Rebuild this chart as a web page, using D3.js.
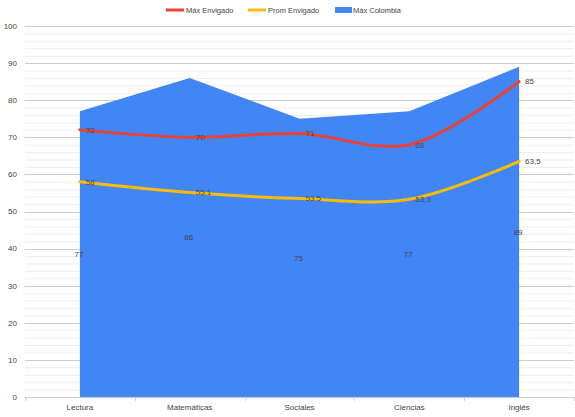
<!DOCTYPE html>
<html><head><meta charset="utf-8">
<script src="https://cdn.jsdelivr.net/npm/d3@7"></script>
<style>body{margin:0;background:#fff}svg{display:block;font-family:Arial,"Liberation Sans",sans-serif}</style>
</head><body><svg id="c" width="575" height="417"></svg>
<script>
const categories = ["Lectura","Matemáticas","Sociales","Ciencias","Inglés"];
const maxEnvigado = [72,70,71,68,85];
const promEnvigado = [58,55.1,53.5,53.3,63.5];
const maxColombia = [77,86,75,77,89];
const yTicks = [0,10,20,30,40,50,60,70,80,90,100];
const seriesNames = ["Máx Envigado","Prom Envigado","Máx Colombia"];
const colors = ["#ea4335","#fbbc04","#4285f4"];
const fmt = v => String(v).replace(".", ",");

const svg = d3.select("#c");
const L = 25, R = 574, T = 26, B = 397;
const x = d3.scaleBand().domain(categories).range([L, R]);
const cx = c => x(c) + x.bandwidth()/2;
const y = d3.scaleLinear().domain([0,100]).range([B, T]);

// minor gridlines
const minor = d3.range(0, 101, 2).filter(v => v % 10 !== 0);
svg.append("g").selectAll("line").data(minor).join("line")
  .attr("x1", L).attr("x2", R).attr("y1", d => y(d)+0.5).attr("y2", d => y(d)+0.5)
  .attr("stroke", "#ededed").attr("stroke-width", 1);
svg.append("g").selectAll("line").data(yTicks.filter(v=>v>0)).join("line")
  .attr("x1", L).attr("x2", R).attr("y1", d => Math.round(y(d))+0.5).attr("y2", d => Math.round(y(d))+0.5)
  .attr("stroke", "#cccccc").attr("stroke-width", 1);

// y labels
svg.append("g").selectAll("text").data(yTicks).join("text")
  .attr("x", 17).attr("y", d => y(d)).attr("dy", "0.35em")
  .attr("text-anchor", "end").attr("font-size", 8).attr("fill", "#444")
  .text(d => d);

// area
const area = d3.area().x((d,i) => cx(categories[i])).y0(y(0)).y1(d => y(d));
svg.append("path").datum(maxColombia).attr("d", area).attr("fill", colors[2]);

// x axis
const xa = svg.append("g").attr("transform", `translate(0,${B})`);
xa.append("line").attr("x1", L).attr("x2", R).attr("y1", 0.5).attr("y2", 0.5).attr("stroke", "#ccc");
const bounds = categories.map(c => x(c)).concat([R]);
xa.selectAll("line.t").data(bounds).join("line").attr("class","t")
  .attr("x1", d => Math.round(d)+0.5).attr("x2", d => Math.round(d)+0.5).attr("y1", 0).attr("y2", 4).attr("stroke", "#ccc");
xa.selectAll("text").data(categories).join("text")
  .attr("x", d => cx(d)).attr("y", 13).attr("text-anchor", "middle")
  .attr("font-size", 8).attr("fill", "#444").text(d => d);

// lines
const line = d3.line().x((d,i) => cx(categories[i])).y(d => y(d)).curve(d3.curveCatmullRom.alpha(0.5));
[[maxEnvigado, colors[0]], [promEnvigado, colors[1]]].forEach(([data, col]) => {
  svg.append("path").datum(data).attr("d", line).attr("fill", "none")
    .attr("stroke", col).attr("stroke-width", 3).attr("stroke-linecap", "round");
});

// area labels
svg.append("g").selectAll("text").data(maxColombia).join("text")
  .attr("x", (d,i) => cx(categories[i]) - 1).attr("y", d => y(d/2)).attr("dy", "0.35em")
  .attr("text-anchor", "middle").attr("font-size", 8).attr("fill", "#444").text(d => fmt(d));

// line labels
[maxEnvigado, promEnvigado].forEach(data => {
  svg.append("g").selectAll("text").data(data).join("text")
    .attr("x", (d,i) => cx(categories[i]) + 6).attr("y", d => y(d)).attr("dy", "0.35em")
    .attr("font-size", 8).attr("fill", (d,i) => i === categories.length-1 ? "#444" : "#4a4a4a").text(d => fmt(d));
});

// legend
const legX = [166, 248, 335];
const lg = svg.append("g");
seriesNames.forEach((n, i) => {
  if (i < 2) {
    lg.append("line").attr("x1", legX[i]).attr("x2", legX[i]+18).attr("y1", 10).attr("y2", 10)
      .attr("stroke", colors[i]).attr("stroke-width", 3);
  } else {
    lg.append("rect").attr("x", legX[i]).attr("y", 7).attr("width", 17).attr("height", 6).attr("fill", colors[i]);
  }
  lg.append("text").attr("x", legX[i] + (i<2?20:18)).attr("y", 10).attr("dy", "0.35em")
    .attr("font-size", 7.5).attr("fill", "#444").text(n);
});
</script></body></html>
